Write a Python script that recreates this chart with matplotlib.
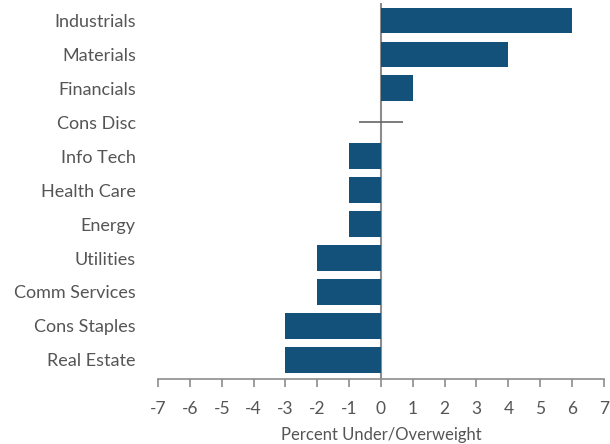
import matplotlib.pyplot as plt

plt.rcParams["font.family"] = ["Lato", "DejaVu Sans"]
plt.rcParams["axes.unicode_minus"] = False

sectors = ["Industrials", "Materials", "Financials", "Cons Disc", "Info Tech",
           "Health Care", "Energy", "Utilities", "Comm Services", "Cons Staples",
           "Real Estate"]
weights = [6, 4, 1, 0, -1, -1, -1, -2, -2, -3, -3]
x_ticks = list(range(-7, 8))

BAR_COLOR = "#13507a"
TEXT_COLOR = "#555555"
AXIS_COLOR = "#8c8c8c"

fig = plt.figure(figsize=(6.1, 4.44), dpi=100)
ax = fig.add_axes([0.259, 0.1464, 0.731, 0.8466])

pos = list(range(len(sectors)))
ax.barh(pos, weights, height=0.74, color=BAR_COLOR, zorder=3)

# zero-value marker for sectors at neutral weight
for p, w in zip(pos, weights):
    if w == 0:
        ax.hlines(p, -0.7, 0.7, color="#666666", lw=1.2, zorder=4)

ax.axvline(0, color=AXIS_COLOR, lw=1.5, zorder=2)

ax.set_xlim(-7, 7)
ax.set_ylim(len(sectors) - 0.44, -0.5)
ax.set_xticks(x_ticks)
ax.set_yticks(pos)
ax.set_yticklabels(sectors)

for side in ("top", "right", "left"):
    ax.spines[side].set_visible(False)
ax.spines["bottom"].set_color(AXIS_COLOR)
ax.spines["bottom"].set_linewidth(1.2)

ax.tick_params(axis="y", length=0, pad=16, labelsize=13, labelcolor=TEXT_COLOR)
ax.tick_params(axis="x", length=6, width=1.2, color=AXIS_COLOR, pad=10,
               labelsize=12.5, labelcolor=TEXT_COLOR)
ax.set_xlabel("Percent Under/Overweight", fontsize=12, color=TEXT_COLOR, labelpad=7)

fig.savefig("out.png", dpi=100)
